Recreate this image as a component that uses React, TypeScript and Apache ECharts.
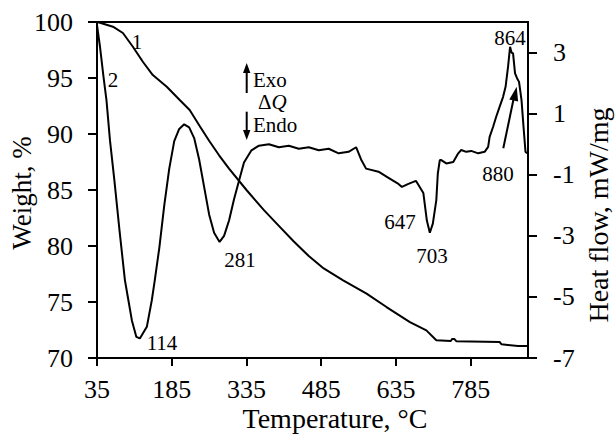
import React, { useEffect, useRef } from "react";
import * as echarts from "echarts";

// TG curve (curve 1): temperature (°C) and weight (%)
const tgTemp = [35, 41, 67, 87, 107, 127, 147, 175, 201, 221, 242, 260, 280, 300, 335, 370, 400, 430, 460, 490, 529, 576, 616, 663, 696, 716, 745, 748, 752, 756, 843, 847, 880, 900];
const tgWeight = [100, 99.94, 99.58, 99.02, 97.79, 96.45, 95.26, 94.22, 93.03, 92.14, 90.64, 89.4, 88.1, 86.9, 85.0, 83.2, 81.8, 80.4, 79.1, 78.0, 76.94, 75.75, 74.55, 73.21, 72.47, 71.58, 71.52, 71.7, 71.7, 71.5, 71.43, 71.22, 71.07, 71.07];

// DSC curve (curve 2): temperature (°C) and heat flow (mW/mg)
const dtaTemp = [35, 41, 48, 54, 61, 70, 80, 91, 98, 105, 114, 121, 135, 145, 151, 160, 170, 180, 190, 200, 210, 220, 230, 240, 250, 260, 270, 281, 290, 300, 310, 320, 330, 345, 360, 380, 400, 420, 440, 460, 480, 500, 520, 540, 555, 565, 575, 600, 620, 640, 647, 660, 675, 690, 697, 703, 709, 716, 719, 723, 726, 736, 750, 760, 766, 776, 786, 800, 813, 820, 823, 830, 836, 843, 850, 855, 860, 864, 867, 870, 874, 878, 882, 887, 891, 895, 898];
const dtaHeat = [3.9, 3.19, 2.21, 1.44, 0.13, -1.2, -2.8, -4.45, -5.11, -5.77, -6.31, -6.36, -5.98, -5.11, -4.45, -3.4, -2.0, -0.8, 0.1, 0.5, 0.65, 0.55, 0.2, -0.5, -1.4, -2.3, -2.9, -3.2, -3.0, -2.5, -1.8, -1.2, -0.6, -0.2, -0.05, 0.0, -0.1, -0.05, -0.15, -0.1, -0.2, -0.15, -0.3, -0.25, -0.1, -0.5, -0.8, -0.9, -1.1, -1.3, -1.4, -1.3, -1.2, -1.6, -2.5, -2.9, -2.6, -1.83, -0.96, -0.52, -0.52, -0.63, -0.58, -0.3, -0.19, -0.25, -0.22, -0.3, -0.25, -0.09, 0.24, 0.57, 0.89, 1.22, 1.55, 1.88, 2.54, 3.19, 3.0, 2.97, 2.32, 2.16, 2.04, 1.44, 0.57, -0.25, -0.3];

const xTicks = [35, 185, 335, 485, 635, 785];
const heatTicks = [-7, -5, -3, -1, 1, 3];

const FONT = '"Liberation Serif", "Times New Roman", serif';

export default function App() {
  const ref = useRef<HTMLDivElement>(null);
  useEffect(() => {
    document.body.style.margin = "0";
    const chart = echarts.init(ref.current!, undefined, { renderer: "svg" });
    const txt = (text: string, x: number, y: number, size = 21, extra: any = {}) => ({
      type: "text",
      x,
      y,
      style: { text, fill: "#000", font: `${size}px ${FONT}`, align: "center", verticalAlign: "middle", ...extra },
      z: 100,
    });
    chart.setOption({
      animation: false,
      backgroundColor: "#fff",
      grid: { left: 97, right: 87, top: 22, bottom: 76, show: true, borderColor: "#000", borderWidth: 2, backgroundColor: "transparent" },
      xAxis: {
        type: "value",
        min: 35,
        max: 900,
        splitLine: { show: false },
        axisLine: { onZero: false, lineStyle: { color: "#000", width: 2 } },
        axisTick: { customValues: xTicks, length: 8, lineStyle: { color: "#000", width: 2 } },
        axisLabel: { customValues: xTicks, color: "#000", fontFamily: FONT, fontSize: 26, margin: 18 },
      },
      yAxis: [
        {
          type: "value",
          min: 70,
          max: 100,
          interval: 5,
          splitLine: { show: false },
          axisLine: { show: true, onZero: false, lineStyle: { color: "#000", width: 2 } },
          axisTick: { show: true, length: 9, lineStyle: { color: "#000", width: 2 } },
          axisLabel: { color: "#000", fontFamily: FONT, fontSize: 26, margin: 24 },
        },
        {
          type: "value",
          min: -7,
          max: 4,
          position: "right",
          splitLine: { show: false },
          axisLine: { show: true, onZero: false, lineStyle: { color: "#000", width: 2 } },
          axisTick: { show: true, customValues: heatTicks, length: 9, lineStyle: { color: "#000", width: 2 } },
          axisLabel: { customValues: heatTicks, color: "#000", fontFamily: FONT, fontSize: 26, margin: 25 },
        },
      ],
      series: [
        {
          type: "line",
          yAxisIndex: 0,
          data: tgTemp.map((t, i) => [t, tgWeight[i]]),
          showSymbol: false,
          lineStyle: { color: "#000", width: 2 },
        },
        {
          type: "line",
          yAxisIndex: 1,
          data: dtaTemp.map((t, i) => [t, dtaHeat[i]]),
          showSymbol: false,
          lineStyle: { color: "#000", width: 2 },
        },
      ],
      graphic: [
        { ...txt("Weight, %", 22, 193, 27), rotation: Math.PI / 2 },
        { ...txt("Heat flow, mW/mg", 598, 215, 28), rotation: Math.PI / 2 },
        txt("Temperature, °C", 335, 418, 28),
        txt("1", 137, 42),
        txt("2", 113, 80),
        txt("114", 162, 343),
        txt("281", 240, 260),
        txt("647", 400, 222),
        txt("703", 432, 256),
        txt("864", 510, 38),
        txt("880", 498, 174),
        txt("Exo", 253, 80, 21, { align: "left" }),
        {
          type: "text",
          x: 258,
          y: 102,
          z: 100,
          style: {
            text: "{a|Δ}{b|Q}",
            align: "left",
            verticalAlign: "middle",
            rich: {
              a: { fontFamily: FONT, fontSize: 21, fill: "#000", color: "#000" },
              b: { fontFamily: FONT, fontSize: 21, fontStyle: "italic", fill: "#000", color: "#000" },
            },
          },
        },
        txt("Endo", 253, 125, 21, { align: "left" }),
        { type: "line", shape: { x1: 246.7, y1: 93, x2: 246.7, y2: 70 }, style: { stroke: "#000", lineWidth: 2 }, z: 100 },
        { type: "polygon", shape: { points: [[246.7, 63], [243, 73], [250.4, 73]] }, style: { fill: "#000" }, z: 100 },
        { type: "line", shape: { x1: 246.7, y1: 111.7, x2: 246.7, y2: 132 }, style: { stroke: "#000", lineWidth: 2 }, z: 100 },
        { type: "polygon", shape: { points: [[246.7, 140], [243, 130], [250.4, 130]] }, style: { fill: "#000" }, z: 100 },
        { type: "line", shape: { x1: 503.3, y1: 148.3, x2: 514, y2: 97 }, style: { stroke: "#000", lineWidth: 2 }, z: 100 },
        { type: "polygon", shape: { points: [[516.7, 86.7], [518.1, 101.4], [509.3, 99.4]] }, style: { fill: "#000" }, z: 100 },
      ],
    });
    return () => chart.dispose();
  }, []);
  return <div ref={ref} style={{ width: 615, height: 434 }} />;
}
